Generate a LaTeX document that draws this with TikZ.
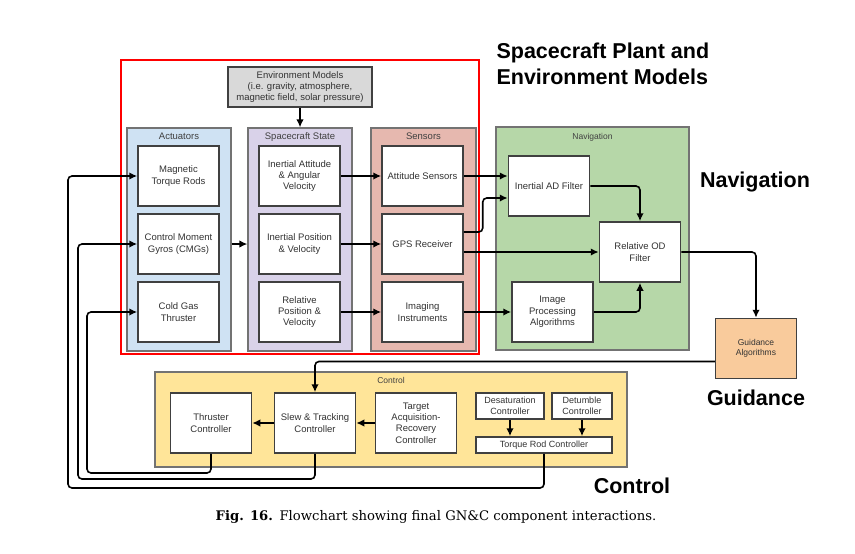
\documentclass[tikz,border=0pt]{standalone}
\usepackage{fontspec}
\setmainfont{Liberation Sans}
\newfontfamily\capfont{DejaVu Serif}
\usetikzlibrary{arrows.meta, calc, positioning}
\definecolor{actblue}{HTML}{CFE2F3}
\definecolor{statelav}{HTML}{D9D2E9}
\definecolor{senspink}{HTML}{E6B8AF}
\definecolor{navgreen}{HTML}{B6D7A8}
\definecolor{ctrlyellow}{HTML}{FFE599}
\definecolor{guidorange}{HTML}{F9CB9C}
\definecolor{envgray}{HTML}{D9D9D9}

\begin{document}
\begin{tikzpicture}[x=1pt, y=-1pt,
      >={Latex[length=8pt,width=7.5pt]},
      panel/.style={rectangle, draw=black!55, line width=1.2pt, minimum width=104, minimum height=223},
      unitbox/.style={rectangle, draw=black!75, fill=white, line width=1.5pt, minimum width=81, minimum height=60, align=center, inner sep=1pt, text=black!80, font=\fontsize{9.5}{11.3}\selectfont},
      paneltitle/.style={text=black!75, inner sep=2pt, font=\fontsize{9.5}{11}\selectfont},
      flow/.style={->, line width=1.6pt, rounded corners=4pt},
      bigtitle/.style={font=\bfseries\fontsize{21.5}{26}\selectfont},
      ]
      \fill[white] (0,0) rectangle (855,554);
      \useasboundingbox (0,0) rectangle (855,554);

      %Plant
      \draw[red, line width=1.2pt] (121,60) rectangle (479,354);
      \node[unitbox, fill=envgray, minimum width=144, minimum height=40, font=\fontsize{9.5}{10.8}\selectfont] (env) at (300,87) {Environment Models\\(i.e. gravity, atmosphere,\\magnetic field, solar pressure)};

      \node[panel, fill=actblue]                       (actp)   at (179,239.5) {};
      \node[panel, fill=statelav]                      (statep) at (300,239.5) {};
      \node[panel, fill=senspink, minimum width=105]   (sensp)  at (423.5,239.5) {};
      \node[paneltitle, below=3pt of actp.north]   (acttitle)   {Actuators};
      \node[paneltitle, below=3pt of statep.north] (statetitle) {Spacecraft State};
      \node[paneltitle, below=3pt of sensp.north]  (senstitle)  {Sensors};

      \node[unitbox] (mtr) at (178.5,176)          {Magnetic\\Torque Rods};
      \node[unitbox] (cmg) [below=6.5pt of mtr]    {Control Moment\\Gyros (CMGs)};
      \node[unitbox] (cgt) [below=6.5pt of cmg]    {Cold Gas\\Thruster};

      \node[unitbox] (inatt) at (299.5,176)          {Inertial Attitude\\\& Angular\\Velocity};
      \node[unitbox] (inpos) [below=6.5pt of inatt]  {Inertial Position\\\& Velocity};
      \node[unitbox] (relpos) [below=6.5pt of inpos] {Relative\\Position \&\\Velocity};

      \node[unitbox] (attsens) at (422.5,176)          {Attitude Sensors};
      \node[unitbox] (gps) [below=6.5pt of attsens]    {GPS Receiver};
      \node[unitbox] (imaging) [below=6.5pt of gps]    {Imaging\\Instruments};

      %Navigation
      \node[panel, fill=navgreen, minimum width=193] (navp) at (592.5,238.5) {};
      \node[paneltitle, font=\fontsize{8.5}{10}\selectfont, below=5pt of navp.north] (navtitle) {Navigation};
      \node[unitbox] (adfilt)  at (549,186)   {Inertial AD Filter};
      \node[unitbox] (relod)   at (640,252)   {Relative OD\\Filter};
      \node[unitbox] (imgproc) at (552.5,312) {Image\\Processing\\Algorithms};

      %Guidance
      \node[unitbox, fill=guidorange, font=\fontsize{8.5}{10.5}\selectfont] (guid) at (756,348.5) {Guidance\\Algorithms};

      %Control
      \node[panel, fill=ctrlyellow, minimum width=472, minimum height=95] (ctrlp) at (391,419.5) {};
      \node[paneltitle, font=\fontsize{8.5}{10}\selectfont, below=4pt of ctrlp.north] (ctrltitle) {Control};
      \node[unitbox] (thrc)   at (211,423) {Thruster\\Controller};
      \node[unitbox] (slew)   at (315,423) {Slew \& Tracking\\Controller};
      \node[unitbox] (target) at (416,423) {Target\\Acquisition-\\Recovery\\Controller};
      \node[unitbox, minimum width=68, minimum height=26, font=\fontsize{9}{10.5}\selectfont] (desat) at (510,406) {Desaturation\\Controller};
      \node[unitbox, minimum width=60, minimum height=26, font=\fontsize{9}{10.5}\selectfont] (detum) at (582,406) {Detumble\\Controller};
      \node[unitbox, minimum width=136, minimum height=16, font=\fontsize{9}{10}\selectfont] (torq) at (544,445) {Torque Rod Controller};

      %Titles
      \node[bigtitle, align=left, anchor=west] (plantlbl) at (493,64) {Spacecraft Plant and\\Environment Models};
      \node[bigtitle] (navlbl)  at (755,182) {Navigation};
      \node[bigtitle] (guidlbl) at (756,398) {Guidance};
      \node[bigtitle] (ctrllbl) at (632,486) {Control};
      \node[font=\capfont\fontsize{13.2}{15}\selectfont] (caption) at (436,517) {\textbf{Fig. 16.}\enspace Flowchart showing final GN\&C component interactions.};

      %Lines
      \draw[flow] (env.south) -- (statep.north);
      \draw[flow] (cmg -| actp.east) -- (cmg -| statep.west);
      \draw[flow] (inatt) -- (attsens);
      \draw[flow] (inpos) -- (gps);
      \draw[flow] (relpos) -- (imaging);

      \draw[flow] (attsens.east) -- (attsens.east -| adfilt.west);
      \draw[flow] ($(gps.east)+(0,-12)$) -- ++(19,0) |- ($(adfilt.west)+(0,12)$);
      \draw[flow] (relod.west -| gps.east) -- (relod.west);
      \draw[flow] (imaging.east) -- (imaging.east -| imgproc.west);
      \draw[flow] (adfilt.east) -| (relod.north);
      \draw[flow] (imgproc.east) -| (relod.south);
      \draw[flow] (relod.east) -| (guid.north);

      \draw[flow] ($(guid.west)+(0,13)$) -| (slew.north);
      \draw[flow] (target) -- (slew);
      \draw[flow] (slew) -- (thrc);
      \draw[flow] (desat.south) -- (desat.south |- torq.north);
      \draw[flow] (detum.south) -- (detum.south |- torq.north);

      \draw[flow] (thrc.south) |- (87,473) |- (cgt.west);
      \draw[flow] (slew.south) |- (78,479) |- (cmg.west);
      \draw[flow] (torq.south) |- (68,488) |- (mtr.west);
\end{tikzpicture}
\end{document}
